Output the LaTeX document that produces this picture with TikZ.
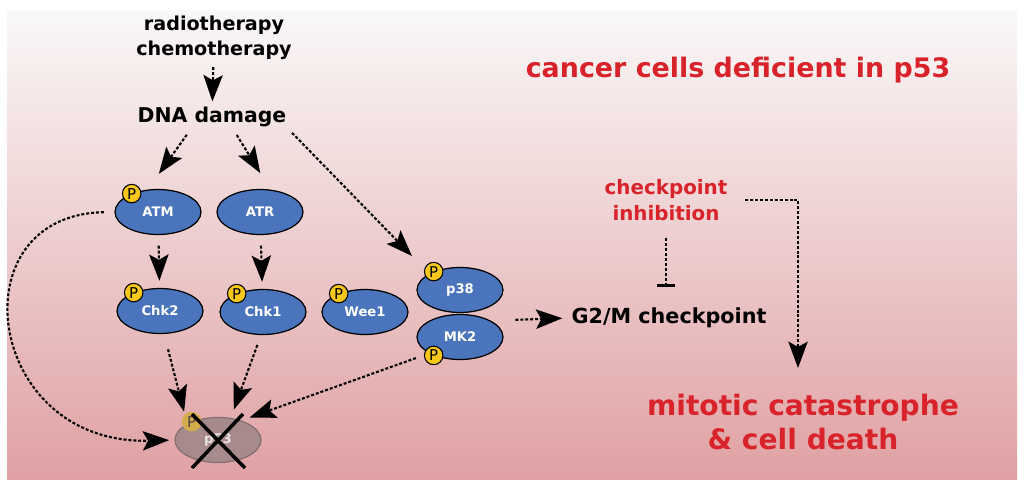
\documentclass[tikz,border=0pt]{standalone}
\usepackage{fontspec}
\setmainfont{DejaVu Sans}
\usetikzlibrary{arrows.meta,positioning,shapes.geometric}
\definecolor{protblue}{HTML}{4A74BC}
\definecolor{phosyellow}{HTML}{F7C71C}
\definecolor{alertred}{HTML}{D9232A}
\definecolor{deadgrey}{HTML}{A68A8C}
\definecolor{bgtop}{HTML}{FAF8F8}
\definecolor{bgmid}{HTML}{EED3D4}
\definecolor{bgbot}{HTML}{E0A1A3}

\tikzset{
  prot/.style={ellipse, draw=black, fill=protblue, line width=0.7pt, minimum width=1.72cm,
    minimum height=0.9cm, inner sep=0pt, text=white, font=\fontsize{7.5}{8}\selectfont\bfseries},
  phos/.style={circle, draw=black, fill=phosyellow, line width=0.6pt, inner sep=0pt,
    minimum size=0.37cm, font=\fontsize{8.5}{8}\selectfont},
  sig/.style={line width=1.2pt, dash pattern=on 1.7pt off 1.1pt,
    -{Stealth[length=15pt,width=11pt,inset=3pt]}},
  lbl/.style={font=\fontsize{11.6}{14.5}\selectfont\bfseries, align=center, inner sep=1pt},
  redlbl/.style={lbl, text=alertred},
}

\begin{document}
\begin{tikzpicture}[x=0.02cm, y=-0.02cm]
      \useasboundingbox (0,0) rectangle (1024,484);
      \shade[top color=bgtop, middle color=bgmid, bottom color=bgbot] (7,10) rectangle (1017,479);

      % texts
      \node[lbl, font=\fontsize{10.9}{14.2}\selectfont\bfseries, name=treat] at (214,38) {radiotherapy\\chemotherapy};
      \node[lbl, name=dna] at (212,117) {DNA damage};
      \node[redlbl, font=\fontsize{15.3}{18}\selectfont\bfseries, name=title] at (738,70) {cancer cells deficient in p53};
      \node[redlbl, font=\fontsize{11.3}{14.5}\selectfont\bfseries, name=inhib] at (666,200) {checkpoint\\inhibition};
      \node[lbl, font=\fontsize{11.8}{14}\selectfont\bfseries, name=gtm] at (669,318) {G2/M checkpoint};
      \node[redlbl, font=\fontsize{16}{19.5}\selectfont\bfseries, name=death] at (803,422) {mitotic catastrophe\\\& cell death};
      \coordinate (drop) at (798,368);

      % kinases
      \node[prot, name=atm] at (158,212) {ATM};
      \node[prot, name=atr] at (260,212) {ATR};
      \node[prot, name=chk2] at (160,311) {Chk2};
      \node[prot, name=chk1] at (263,312) {Chk1};
      \node[prot, name=wee1] at (365,312) {Wee1};
      \node[prot, name=mk2] at (460,337) {MK2};
      \node[prot, name=p38] at (460,290) {p38};
      \node[prot, draw=deadgrey!80!black, fill=deadgrey, text=white!75!deadgrey, name=p53] at (218,440) {p53};

      \node[phos, name=patm] at (atm.145) {P};
      \node[phos, name=pchk2] at (chk2.145) {P};
      \node[phos, name=pchk1] at (chk1.145) {P};
      \node[phos, name=pwee1] at (wee1.145) {P};
      \node[phos, name=pp38] at (p38.145) {P};
      \node[phos, name=pmk2] at (mk2.215) {P};
      \node[phos, draw=phosyellow!60!deadgrey, fill=phosyellow!55!deadgrey, text=black!50!deadgrey, name=pp53] at (p53.145) {P};

      % p53 crossed out
      \draw[line width=2pt] ([shift={(-26,-26)}]p53.center) -- ([shift={(27,28)}]p53.center);
      \draw[line width=2pt] ([shift={(25,-26)}]p53.center) -- ([shift={(-26,28)}]p53.center);

      \path[sig]
         (treat) edge[shorten <=3pt, shorten >=2pt] (dna)
         ([xshift=-12pt]dna.south) edge[shorten <=4pt, shorten >=11pt] (atm.115)
         ([xshift=12pt]dna.south) edge[shorten <=4pt, shorten >=11pt] (atr.65)
         (dna.south east) edge[shorten <=3pt, shorten >=14pt] (p38.north west)
         (atm) edge[shorten <=6pt, shorten >=4pt] (chk2)
         (atr) edge[shorten <=6pt, shorten >=4pt] (chk1)
         (chk2.-80) edge[shorten <=9pt, shorten >=7pt] (p53.north west)
         (chk1.-95) edge[shorten <=6pt, shorten >=5pt] (p53.60)
         (mk2.south west) edge[shorten <=8pt, shorten >=5pt] (p53.40)
         (mk2.north east) edge[shorten <=14pt, shorten >=4pt] (gtm.west);

      \draw[sig, shorten <=6pt, shorten >=3pt] (atm.west) .. controls (-45,215) and (-15,445) .. (p53.west);
      \draw[sig, shorten <=9pt] (inhib.east) -| (drop);
      \draw[line width=1.2pt, dash pattern=on 1.7pt off 1.1pt, -{Bar[width=10pt]}, shorten <=9pt, shorten >=11pt] (inhib) -- (inhib |- gtm.north);
\end{tikzpicture}
\end{document}
